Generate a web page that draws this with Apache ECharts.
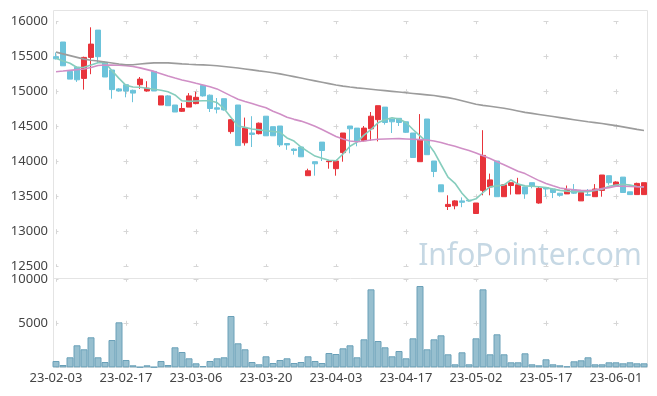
<!DOCTYPE html>
<html>
<head>
<meta charset="utf-8">
<script src="https://cdn.jsdelivr.net/npm/echarts@6/dist/echarts.min.js"></script>
<style>
html,body{margin:0;padding:0;background:#fff;}
#c{width:657px;height:396px;}
</style>
</head>
<body>
<div id="c"></div>
<script>
const dates = ['23-02-03','23-02-06','23-02-07','23-02-08','23-02-09','23-02-10','23-02-13','23-02-14','23-02-15','23-02-16',
'23-02-17','23-02-20','23-02-21','23-02-22','23-02-23','23-02-24','23-02-27','23-02-28','23-03-02','23-03-03',
'23-03-06','23-03-07','23-03-08','23-03-09','23-03-10','23-03-13','23-03-14','23-03-15','23-03-16','23-03-17',
'23-03-20','23-03-21','23-03-22','23-03-23','23-03-24','23-03-27','23-03-28','23-03-29','23-03-30','23-03-31',
'23-04-03','23-04-04','23-04-05','23-04-06','23-04-07','23-04-10','23-04-11','23-04-12','23-04-13','23-04-14',
'23-04-17','23-04-18','23-04-19','23-04-20','23-04-21','23-04-24','23-04-25','23-04-26','23-04-27','23-04-28',
'23-05-02','23-05-03','23-05-04','23-05-08','23-05-09','23-05-10','23-05-11','23-05-12','23-05-15','23-05-16',
'23-05-17','23-05-18','23-05-19','23-05-22','23-05-23','23-05-24','23-05-25','23-05-26','23-05-30','23-05-31',
'23-06-01','23-06-02','23-06-05','23-06-07','23-06-08'];

const opens = [15500,15710,15290,15350,15190,15490,15880,15420,15310,15040,
15100,15020,15100,15010,15290,14810,14940,14810,14720,14780,
14830,15090,14950,14770,14900,14430,14810,14270,14410,14400,
14650,14500,14510,14260,14180,14210,13800,14000,14280,14000,
13900,14130,14510,14480,14300,14470,14600,14780,14610,14620,
14570,14410,14000,14610,14010,13670,13360,13370,13440,13450,
13260,13590,13640,14010,13500,13660,13540,13640,13700,13410,
13630,13610,13550,13540,13600,13440,13530,13500,13590,13800,
13660,13780,13570,13530,13530];
const closes = [15470,15370,15180,15170,15490,15680,15500,15210,15030,15010,
15010,14980,15180,15050,15010,14940,14800,14710,14760,14940,
14920,14940,14760,14750,14740,14600,14230,14480,14390,14550,
14370,14370,14240,14240,14160,14070,13870,13970,14160,14010,
14010,14410,14470,14290,14480,14650,14800,14560,14570,14560,
14420,14060,14310,14100,13860,13570,13390,13440,13420,13440,
13410,14090,13740,13500,13670,13700,13670,13540,13650,13620,
13610,13560,13520,13600,13550,13560,13520,13610,13810,13700,
13710,13560,13530,13690,13700];
const lows = [15460,15370,15180,15140,15030,15250,15410,15210,14900,15000,
14920,14850,15040,15000,15010,14810,14800,14710,14710,14780,
14820,14930,14710,14690,14730,14400,14230,14230,14210,14390,
14370,14370,14210,14170,14100,14070,13800,13800,14010,13900,
13800,14000,14120,14220,14290,14300,14290,14530,14410,14510,
14410,14060,14000,14100,13780,13570,13310,13320,13350,13430,
13260,13520,13520,13500,13500,13530,13540,13470,13620,13400,
13500,13480,13500,13540,13540,13440,13510,13500,13500,13670,
13660,13560,13530,13530,13530];
const highs = [15560,15710,15290,15360,15500,15920,15880,15430,15310,15050,
15110,15030,15210,15150,15290,14940,14950,14810,14840,14980,
15000,15090,14960,14910,14900,14610,14810,14630,14650,14560,
14650,14500,14510,14260,14190,14210,13900,14000,14280,14020,
14020,14410,14510,14480,14510,14710,14800,14780,14610,14620,
14570,14410,14680,14610,14010,13670,13520,13450,13490,13450,
13410,14450,13830,14010,13670,13700,13770,13640,13700,13640,
13630,13610,13550,13660,13680,13560,13610,13680,13810,13800,
13720,13780,13570,13700,13700];

const volumes = [716,261,1136,2500,2045,3408,1136,602,3100,5112,
830,227,30,227,30,716,261,2272,1738,1022,
454,148,716,1022,1136,5828,2726,2045,602,341,
1250,488,830,1022,488,602,1250,716,488,1624,
1510,2158,2500,1136,3180,8860,2988,2272,1250,1852,
1022,3294,9236,2045,3180,3635,1477,341,1704,341,
3294,8860,1477,3749,1477,568,568,1590,341,227,
909,341,227,114,682,795,1136,341,341,568,
568,454,568,454,454];

const ma5 = [15477,15440,15406,15345,15350,15380,15414,15416,15300,15190,
15090,15068,15063,15050,15035,15020,15000,14953,14870,14862,
14867,14870,14870,14845,14760,14630,14510,14490,14467,14455,
14443,14432,14420,14340,14295,14210,14143,14080,14050,14020,
14014,14110,14220,14280,14380,14460,14555,14600,14629,14610,
14560,14460,14370,14280,14143,13960,13780,13691,13550,13440,
13470,13560,13640,13655,13667,13739,13680,13655,13650,13643,
13630,13608,13590,13580,13571,13570,13572,13590,13606,13650,
13665,13677,13665,13645,13640];
const ma20 = [15286,15295,15305,15315,15325,15345,15375,15382,15380,15377,
15372,15360,15340,15315,15290,15258,15225,15195,15168,15145,
15120,15097,15070,15040,14990,14940,14892,14860,14830,14800,
14770,14720,14680,14635,14605,14580,14545,14505,14460,14410,
14360,14325,14295,14285,14295,14310,14320,14325,14328,14330,
14325,14320,14315,14310,14295,14275,14245,14220,14190,14160,
14125,14085,14045,14000,13955,13910,13865,13830,13780,13730,
13690,13655,13625,13610,13598,13590,13588,13595,13615,13630,
13650,13650,13645,13643,13643];
const ma60 = [15565,15540,15515,15490,15465,15450,15438,15425,15410,15395,
15385,15385,15395,15405,15412,15414,15412,15405,15398,15392,
15387,15383,15378,15370,15360,15350,15338,15325,15312,15298,
15285,15270,15255,15235,15215,15195,15175,15155,15135,15115,
15095,15080,15067,15055,15045,15035,15025,15015,15005,14995,
14985,14975,14965,14955,14945,14930,14915,14895,14870,14845,
14820,14805,14792,14778,14763,14745,14725,14705,14690,14675,
14660,14645,14630,14615,14600,14585,14570,14558,14545,14530,
14515,14498,14480,14462,14445];

const candleData = opens.map((o, i) => [o, closes[i], lows[i], highs[i]]);

const chart = echarts.init(document.getElementById('c'), null, {renderer: 'canvas'});
const FONT = '"Noto Sans", sans-serif';
const gridCol = '#d6d6d6';
const labelStyle = {color: '#444', fontFamily: FONT, fontSize: 13};
const plain = v => String(v);

chart.setOption({
  animation: false,
  backgroundColor: '#fff',
  grid: [
    {left: 56, width: 588, top: 21.7, height: 245, containLabel: false},
    {left: 56, width: 588, top: 279.3, height: 88, containLabel: false}
  ],
  graphic: [
    {type: 'rect', z: -10, silent: true, shape: {x: 53.5, y: 10.5, width: 594, height: 357},
     style: {fill: 'none', stroke: '#e4e4e4', lineWidth: 1}},
    {type: 'line', z: -10, silent: true, shape: {x1: 53.5, y1: 278.5, x2: 647.5, y2: 278.5},
     style: {stroke: '#e4e4e4', lineWidth: 1}},
    {type: 'text', z: -5, silent: true, x: 530, y: 256,
     style: {text: 'InfoPointer.com', font: '30px "Noto Sans"', fill: 'rgba(160,190,210,0.6)',
             textAlign: 'center', textVerticalAlign: 'middle'}}
  ],
  xAxis: [
    {type: 'category', gridIndex: 0, data: dates, boundaryGap: false,
     axisLine: {show: false}, axisTick: {show: false}, axisLabel: {show: false},
     splitLine: {show: true, interval: 9, lineStyle: {color: gridCol, width: 1, type: [5, 30], dashOffset: 2.5}}},
    {type: 'category', gridIndex: 1, data: dates, boundaryGap: false,
     axisLine: {show: false}, axisTick: {show: false},
     axisLabel: Object.assign({interval: 9, margin: 4}, labelStyle),
     splitLine: {show: true, interval: 9, lineStyle: {color: gridCol, width: 1, type: [5, 39], dashOffset: 2.5}}}
  ],
  yAxis: [
    {type: 'value', gridIndex: 0, min: 12500, max: 16000, interval: 500, scale: true,
     axisLine: {show: false}, axisTick: {show: false},
     axisLabel: Object.assign({margin: 8, formatter: plain}, labelStyle),
     splitLine: {show: true, lineStyle: {color: gridCol, width: 1, type: [5, 65], dashOffset: 2.5}}},
    {type: 'value', gridIndex: 1, min: 0, max: 10000, interval: 5000,
     axisLine: {show: false}, axisTick: {show: false},
     axisLabel: Object.assign({margin: 8, showMinLabel: false, formatter: plain}, labelStyle),
     splitLine: {show: true, lineStyle: {color: gridCol, width: 1, type: [5, 65], dashOffset: 2.5}}}
  ],
  series: [
    {type: 'candlestick', xAxisIndex: 0, yAxisIndex: 0, data: candleData, barWidth: 5, clip: false, z: 3,
     itemStyle: {color: '#e8343b', color0: '#6cc3da', borderColor: '#e8343b', borderColor0: '#6cc3da', borderWidth: 1}},
    {type: 'line', xAxisIndex: 0, yAxisIndex: 0, data: ma5, symbol: 'none', clip: false, z: 4,
     lineStyle: {color: '#86cdbd', width: 1.6}},
    {type: 'line', xAxisIndex: 0, yAxisIndex: 0, data: ma20, symbol: 'none', clip: false, z: 4,
     lineStyle: {color: '#d08fc6', width: 1.6}},
    {type: 'line', xAxisIndex: 0, yAxisIndex: 0, data: ma60, symbol: 'none', clip: false, z: 4,
     lineStyle: {color: '#9c9c9c', width: 1.6}},
    {type: 'bar', xAxisIndex: 1, yAxisIndex: 1, data: volumes, barCategoryGap: '0%', clip: false,
     itemStyle: {color: '#97bfcf', borderColor: '#6aa0b8', borderWidth: 1}}
  ]
});
</script>
</body>
</html>
